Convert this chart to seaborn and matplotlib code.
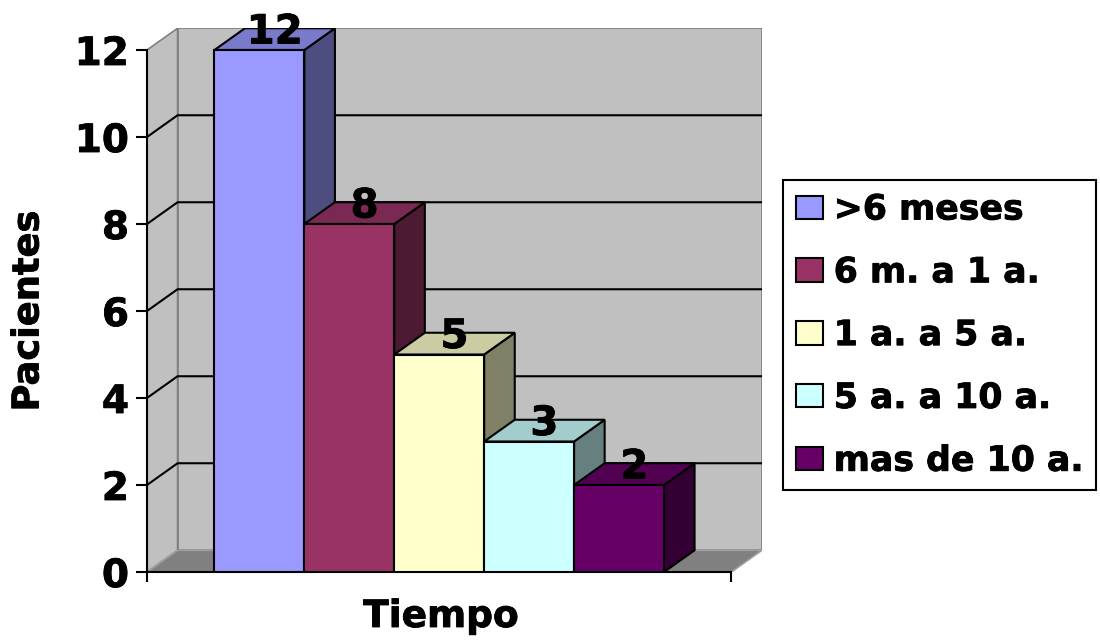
import matplotlib
matplotlib.use("Agg")
import matplotlib.pyplot as plt
import matplotlib.patheffects as pe
import seaborn as sns
import pandas as pd
from matplotlib.patches import Polygon, Patch
from matplotlib.colors import to_rgb

# Data
categorias = [">6 meses", "6 m. a 1 a.", "1 a. a 5 a.", "5 a. a 10 a.", "mas de 10 a."]
pacientes = [12, 8, 5, 3, 2]
colores = ["#9999FF", "#993366", "#FFFFCC", "#CCFFFF", "#660066"]
y_ticks = [0, 2, 4, 6, 8, 10, 12]

sns.set_theme(style="white")
plt.rcParams["font.family"] = ["DejaVu Sans"]
plt.rcParams["font.weight"] = "bold"
for key in ["text.color", "axes.labelcolor", "xtick.color", "ytick.color"]:
    plt.rcParams[key] = "black"

# slightly heavier strokes for all text
HEAVY = [pe.withStroke(linewidth=0.6, foreground="black")]

# oblique depth offset of the pseudo-3D box
DX, DY = 0.34, 0.5
X0, X1 = -1.25, 5.25
YMAX = y_ticks[-1]

fig = plt.figure(figsize=(11, 6.41), dpi=100)
ax = fig.add_axes([147 / 1100, 1 - 572 / 641, 615 / 1100, (572 - 28.25) / 641])

df = pd.DataFrame({"Tiempo": categorias, "Pacientes": pacientes})
sns.barplot(data=df, x="Tiempo", y="Pacientes", hue="Tiempo", hue_order=categorias,
            palette=colores, width=1.0, saturation=1, edgecolor="black",
            linewidth=1.5, legend=False, ax=ax)

bars = [p for cont in ax.containers for p in cont]

# walls and floor
wall_kw = dict(closed=True, facecolor="#c0c0c0", edgecolor="#808080", linewidth=1.2)
ax.add_patch(Polygon([(X0 + DX, DY), (X1 + DX, DY), (X1 + DX, YMAX + DY), (X0 + DX, YMAX + DY)],
                     zorder=0.5, **wall_kw))
ax.add_patch(Polygon([(X0, 0), (X0 + DX, DY), (X0 + DX, YMAX + DY), (X0, YMAX)],
                     zorder=0.5, **wall_kw))
ax.add_patch(Polygon([(X0, 0), (X1, 0), (X1 + DX, DY), (X0 + DX, DY)], closed=True,
                     facecolor="#808080", edgecolor="#a0a0a0", linewidth=1.2, zorder=0.6))
for t in y_ticks[1:-1]:
    ax.plot([X0, X0 + DX, X1 + DX], [t, t + DY, t + DY], color="black", lw=1.5, zorder=0.8)

# top and side faces of each bar, plus value labels
for i, (bar, c) in enumerate(zip(bars, colores)):
    x, w, h = bar.get_x(), bar.get_width(), bar.get_height()
    rgb = to_rgb(c)
    top_c = tuple(v * 0.8 for v in rgb)
    side_c = tuple(v * 0.5 for v in rgb)
    z = 3 + 2 * i
    ax.add_patch(Polygon([(x + w, 0), (x + w + DX, DY), (x + w + DX, h + DY), (x + w, h)],
                         closed=True, facecolor=side_c, edgecolor="black", lw=1.5, zorder=z))
    ax.add_patch(Polygon([(x, h), (x + w, h), (x + w + DX, h + DY), (x + DX, h + DY)],
                         closed=True, facecolor=top_c, edgecolor="black", lw=1.5, zorder=z))
    bar.set_zorder(z + 1)
    ax.text(x + w / 2 + DX / 2, h + 0.15, f"{h:g}", ha="center", va="baseline",
            fontsize=29, fontweight="bold", color="black", zorder=20, path_effects=HEAVY)

ax.set_xlim(X0, X1 + DX)
ax.set_ylim(0, YMAX + DY)

for s in ["top", "right"]:
    ax.spines[s].set_visible(False)
for s in ["left", "bottom"]:
    ax.spines[s].set_color("black")
    ax.spines[s].set_linewidth(1.5)
ax.spines["left"].set_bounds(0, YMAX)
ax.spines["bottom"].set_bounds(X0, X1)

ax.set_yticks(y_ticks)
ax.set_yticklabels([str(t) for t in y_ticks], fontsize=28, fontweight="bold")
ax.set_xticks([X0, X1])
ax.set_xticklabels(["", ""])
ax.tick_params(axis="y", direction="out", length=8, width=1.5, pad=5, left=True)
ax.tick_params(axis="x", direction="out", length=7, width=1.5, bottom=True)
for lbl in ax.get_yticklabels():
    lbl.set_path_effects(HEAVY)

ax.set_xlabel("Tiempo", fontsize=27, fontweight="bold", path_effects=HEAVY)
ax.xaxis.label.set_va("center")
ax.xaxis.set_label_coords((441 - 147) / 615, (572 - 617) / 543.75)
ax.set_ylabel("Pacientes", fontsize=26.5, fontweight="bold", path_effects=HEAVY)
ax.yaxis.label.set_va("center")
ax.yaxis.set_label_coords((28 - 147) / 615, (572 - 311) / 543.75)

handles = [Patch(facecolor=c, edgecolor="black", linewidth=1.5) for c in colores]
leg = fig.legend(handles, categorias, loc="upper left", bbox_to_anchor=(783 / 1100, 1 - 180 / 641),
                 frameon=True, fancybox=False, edgecolor="black", framealpha=1,
                 prop={"size": 25, "weight": "bold"}, handlelength=0.8, handleheight=0.66,
                 handletextpad=0.3, labelspacing=0.83, borderpad=0.36, borderaxespad=0)
leg.get_frame().set_linewidth(1.5)
for t in leg.get_texts():
    t.set_path_effects(HEAVY)

fig.savefig("out.png", dpi=100)
